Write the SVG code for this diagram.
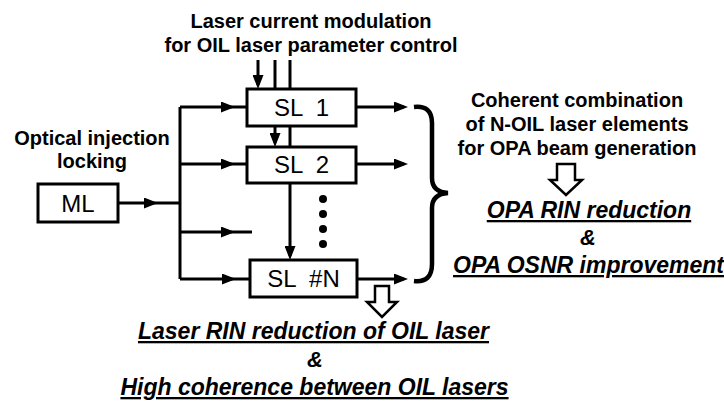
<svg xmlns="http://www.w3.org/2000/svg" width="724" height="401" viewBox="0 0 724 401">
<style>
.bx{fill:#fff;stroke:#000;stroke-width:3}
.ln{fill:none;stroke:#000;stroke-width:3}
.t{font-family:"Liberation Sans",Arial,sans-serif;fill:#000;text-anchor:middle}
.b{font-weight:bold;font-size:20px}
.r{font-size:24px}
.bi{font-weight:bold;font-style:italic;font-size:23px;text-decoration:underline}
.amp{font-weight:bold;font-style:italic;font-size:22px}
.ho{fill:#fff;stroke:#000;stroke-width:2.5;stroke-linejoin:miter}
</style>
<defs>
<marker id="ah" viewBox="0 0 14 11" refX="10" refY="5.5" markerWidth="14" markerHeight="11" markerUnits="userSpaceOnUse" orient="auto">
<path d="M0,0 L14,5.5 L0,11 z" fill="#000"/>
</marker>
</defs>
<g id="connectors">
<path class="ln" d="M180,107 V279"/>
<path class="ln" d="M118,203 L154,203 L180,203" marker-mid="url(#ah)"/>
<path class="ln" d="M180,107 L231,107 L247,107" marker-mid="url(#ah)"/>
<path class="ln" d="M180,164 L231,164 L247,164" marker-mid="url(#ah)"/>
<path class="ln" d="M180,232 L231,232 L252,232" marker-mid="url(#ah)"/>
<path class="ln" d="M180,279 L232,279 L250,279" marker-mid="url(#ah)"/>
<path class="ln" d="M357,107 H404" marker-end="url(#ah)"/>
<path class="ln" d="M357,164 H404" marker-end="url(#ah)"/>
<path class="ln" d="M357,279 H404" marker-end="url(#ah)"/>
<path class="ln" d="M258,60 V85" marker-end="url(#ah)"/>
<path class="ln" d="M275,60 V89"/>
<path class="ln" d="M290,60 V89"/>
<path class="ln" d="M275,126 V143" marker-end="url(#ah)"/>
<path class="ln" d="M290,126 V147"/>
<path class="ln" d="M290,183 V256" marker-end="url(#ah)"/>
<path d="M414,107 Q432,105 432,123 L432,178 Q432,192 448,193 Q432,194 432,208 L432,264 Q432,283 414,281" fill="none" stroke="#000" stroke-width="4.5"/>
<polygon class="ho" points="557,164 575,164 575,180 582,180 566,195 550,180 557,180"/>
<polygon class="ho" points="375,286 389,286 389,302 397,302 382,317 367,302 375,302"/>
</g>
<g id="dots">
<circle cx="323" cy="199" r="4"/>
<circle cx="323" cy="214" r="4"/>
<circle cx="323" cy="229" r="4"/>
<circle cx="323" cy="244" r="4"/>
</g>
<g id="ML">
<rect class="bx" x="38" y="184" width="80" height="38"/>
<text class="t r" x="78" y="212">ML</text>
</g>
<g id="SL1">
<rect class="bx" x="247" y="89" width="109" height="37"/>
<text class="t r" x="301.5" y="116" xml:space="preserve">SL  1</text>
</g>
<g id="SL2">
<rect class="bx" x="247" y="147" width="109" height="36"/>
<text class="t r" x="301.5" y="173" xml:space="preserve">SL  2</text>
</g>
<g id="SLN">
<rect class="bx" x="250" y="260" width="107" height="37"/>
<text class="t r" x="303.5" y="287" xml:space="preserve">SL  #N</text>
</g>
<g id="labels">
<text class="t b" x="311" y="28">Laser current modulation</text>
<text class="t b" x="311" y="52">for OIL laser parameter control</text>
<text class="t b" x="92" y="145">Optical injection</text>
<text class="t b" x="92" y="168">locking</text>
<text class="t b" x="577" y="107">Coherent combination</text>
<text class="t b" x="577" y="131">of N-OIL laser elements</text>
<text class="t b" x="577" y="155">for OPA beam generation</text>
<text class="t bi" x="589" y="218">OPA RIN reduction</text>
<text class="t amp" x="588" y="245">&amp;</text>
<text class="t bi" x="588.5" y="273">OPA OSNR improvement</text>
<text class="t bi" x="313.5" y="339">Laser RIN reduction of OIL laser</text>
<text class="t amp" x="315" y="367">&amp;</text>
<text class="t bi" x="314.5" y="395">High coherence between OIL lasers</text>
</g>
</svg>
